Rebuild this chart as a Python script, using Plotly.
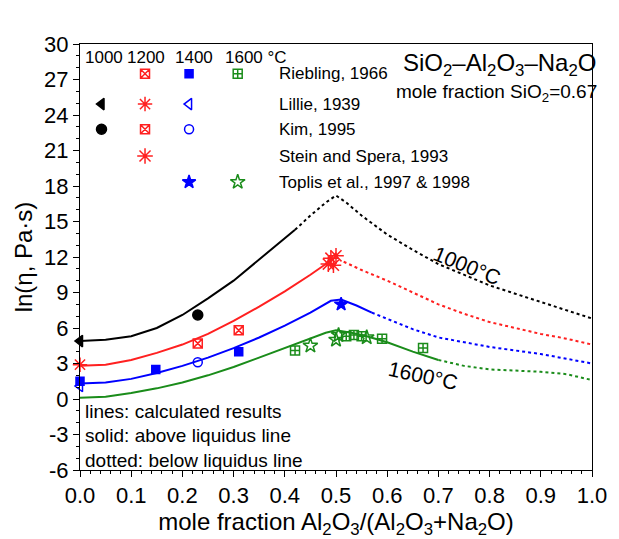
import plotly.graph_objects as go

# ---------------- data: calculated curves ----------------
black_solid_x = [0, 0.05, 0.1, 0.15, 0.2, 0.25, 0.3, 0.35, 0.4, 0.42]
black_solid_y = [4.9, 5.0, 5.3, 6.0, 7.1, 8.5, 10.0, 11.8, 13.6, 14.3]
black_dot_x = [0.42, 0.45, 0.48, 0.5, 0.52, 0.55, 0.6, 0.65, 0.7, 0.75, 0.8, 0.85, 0.9, 0.95, 1.0]
black_dot_y = [14.3, 15.5, 16.6, 17.2, 16.6, 15.5, 13.9, 12.6, 11.4, 10.5, 9.6, 8.9, 8.2, 7.5, 6.8]

red_solid_x = [0, 0.05, 0.1, 0.15, 0.2, 0.25, 0.3, 0.35, 0.4, 0.45, 0.49]
red_solid_y = [2.8, 2.9, 3.3, 3.9, 4.6, 5.5, 6.6, 7.8, 9.1, 10.5, 11.7]
red_dot_x = [0.515, 0.55, 0.6, 0.65, 0.7, 0.75, 0.8, 0.85, 0.9, 0.95, 1.0]
red_dot_y = [11.6, 10.9, 10.0, 9.0, 8.0, 7.2, 6.5, 6.0, 5.5, 5.1, 4.6]

blue_solid_x = [0, 0.05, 0.1, 0.15, 0.2, 0.25, 0.3, 0.35, 0.4, 0.45, 0.49, 0.51, 0.54, 0.57]
blue_solid_y = [1.3, 1.4, 1.7, 2.2, 2.8, 3.5, 4.3, 5.2, 6.2, 7.3, 8.3, 8.4, 7.9, 7.3]
blue_dot_x = [0.57, 0.6, 0.65, 0.7, 0.75, 0.8, 0.85, 0.9, 0.95, 1.0]
blue_dot_y = [7.3, 6.8, 5.9, 5.2, 4.8, 4.4, 4.1, 3.8, 3.4, 3.0]

green_solid_x = [0, 0.05, 0.1, 0.15, 0.2, 0.25, 0.3, 0.35, 0.4, 0.45, 0.48, 0.5, 0.53, 0.56, 0.6, 0.65, 0.7]
green_solid_y = [0.1, 0.2, 0.5, 0.9, 1.4, 2.0, 2.7, 3.5, 4.3, 5.1, 5.6, 5.8, 5.6, 5.3, 4.8, 4.0, 3.3]
green_dot_x = [0.7, 0.75, 0.8, 0.85, 0.9, 0.95, 1.0]
green_dot_y = [3.3, 2.8, 2.5, 2.4, 2.3, 2.1, 1.6]

# ---------------- data: experimental points ----------------
lillie_1000_x = [0.0]; lillie_1000_y = [4.9]
kim_1000_x = [0.23]; kim_1000_y = [7.1]

lillie_1200_x = [0.0]; lillie_1200_y = [2.9]
kim_1200_x = [0.23]; kim_1200_y = [4.7]
riebling_1200_x = [0.31]; riebling_1200_y = [5.8]
stein_1200_x = [0.485, 0.49, 0.495, 0.5]
stein_1200_y = [11.4, 11.9, 11.3, 12.1]

riebling_1400_x = [0.0, 0.148, 0.31]; riebling_1400_y = [1.5, 2.5, 4.0]
lillie_1400_x = [0.0]; lillie_1400_y = [1.1]
kim_1400_x = [0.23]; kim_1400_y = [3.1]
toplis_1400_x = [0.51]; toplis_1400_y = [8.0]

riebling_1600_x = [0.42, 0.52, 0.535, 0.55, 0.59, 0.67]
riebling_1600_y = [4.1, 5.3, 5.4, 5.3, 5.1, 4.3]
toplis_1600_x = [0.45, 0.50, 0.505, 0.56]
toplis_1600_y = [4.5, 5.0, 5.4, 5.2]

x_ticks = [0.0, 0.1, 0.2, 0.3, 0.4, 0.5, 0.6, 0.7, 0.8, 0.9, 1.0]
y_ticks = [-6, -3, 0, 3, 6, 9, 12, 15, 18, 21, 24, 27, 30]
y_tick_labels = ["-6", "-3", "0", "3", "6", "9", "12", "15", "18", "21", "24", "27", "30"]

FONT = "Liberation Sans, Arial, sans-serif"
BLACK, RED, BLUE, GREEN = "#000000", "#ff2020", "#0000ff", "#1a8c1a"

fig = go.Figure()

def line(x, y, color, dash):
    fig.add_trace(go.Scatter(x=x, y=y, mode="lines", showlegend=False,
                             line=dict(color=color, width=2, dash=dash)))

for xs, ys, xd, yd, c in [
    (black_solid_x, black_solid_y, black_dot_x, black_dot_y, BLACK),
    (red_solid_x, red_solid_y, red_dot_x, red_dot_y, RED),
    (blue_solid_x, blue_solid_y, blue_dot_x, blue_dot_y, BLUE),
    (green_solid_x, green_solid_y, green_dot_x, green_dot_y, GREEN),
]:
    line(xs, ys, c, "solid")
    line(xd, yd, c, "dot")

STY = {
    "riebling_1200": dict(symbol="square-x-open", color=RED, size=9),
    "riebling_1400": dict(symbol="square", color=BLUE, size=8),
    "riebling_1600": dict(symbol="square-cross-open", color=GREEN, size=9),
    "lillie_1000": dict(symbol="triangle-left", color=BLACK, size=10),
    "lillie_1200": dict(symbol="asterisk-open", color=RED, size=12),
    "lillie_1400": dict(symbol="triangle-left-open", color=BLUE, size=10),
    "kim_1000": dict(symbol="circle", color=BLACK, size=10),
    "kim_1200": dict(symbol="square-x-open", color=RED, size=9),
    "kim_1400": dict(symbol="circle-open", color=BLUE, size=9),
    "stein_1200": dict(symbol="asterisk-open", color=RED, size=13),
    "toplis_1400": dict(symbol="star", color=BLUE, size=10),
    "toplis_1600": dict(symbol="star-open", color=GREEN, size=11),
}

def pts(x, y, key, xa="x", ya="y"):
    s = STY[key]
    fig.add_trace(go.Scatter(
        x=x, y=y, mode="markers", showlegend=False, cliponaxis=False,
        xaxis=xa, yaxis=ya,
        marker=dict(symbol=s["symbol"], size=s["size"], color=s["color"],
                    line=dict(color=s["color"], width=1.5))))

pts(lillie_1000_x, lillie_1000_y, "lillie_1000")
pts(kim_1000_x, kim_1000_y, "kim_1000")
pts(lillie_1200_x, lillie_1200_y, "lillie_1200")
pts(kim_1200_x, kim_1200_y, "kim_1200")
pts(riebling_1200_x, riebling_1200_y, "riebling_1200")
pts(stein_1200_x, stein_1200_y, "stein_1200")
pts(riebling_1400_x, riebling_1400_y, "riebling_1400")
pts(lillie_1400_x, lillie_1400_y, "lillie_1400")
pts(kim_1400_x, kim_1400_y, "kim_1400")
pts(toplis_1400_x, toplis_1400_y, "toplis_1400")
pts(riebling_1600_x, riebling_1600_y, "riebling_1600")
pts(toplis_1600_x, toplis_1600_y, "toplis_1600")

# ---------------- custom legend table (in an overlay 0..1 frame) ----------------
col_x = {"1000": 0.042, "1200": 0.127, "1400": 0.213, "1600": 0.308}
head_x = {"1000": 0.046, "1200": 0.129, "1400": 0.222}
rows = [
    ("Riebling, 1966", 0.930, ["riebling_1200", "riebling_1400", "riebling_1600"]),
    ("Lillie, 1939", 0.859, ["lillie_1000", "lillie_1200", "lillie_1400"]),
    ("Kim, 1995", 0.800, ["kim_1000", "kim_1200", "kim_1400"]),
    ("Stein and Spera, 1993", 0.737, ["stein_1200"]),
    ("Toplis et al., 1997 & 1998", 0.676, ["toplis_1400", "toplis_1600"]),
]
for label, yy, keys in rows:
    for k in keys:
        pts([col_x[k.split("_")[1]]], [yy], k, "x2", "y2")

ann = []
for t, xx in head_x.items():
    ann.append(dict(x=xx, y=0.969, xref="paper", yref="paper", text=t, showarrow=False,
                    xanchor="center", yanchor="middle", font=dict(size=17, color="black", family=FONT)))
ann.append(dict(x=0.279, y=0.969, xref="paper", yref="paper", text="1600 °C", showarrow=False,
                xanchor="left", yanchor="middle", font=dict(size=17, color="black", family=FONT)))
for label, yy, keys in rows:
    ann.append(dict(x=0.384, y=yy, xref="paper", yref="paper", text=label, showarrow=False,
                    xanchor="left", yanchor="middle", font=dict(size=17, color="black", family=FONT)))

ann.append(dict(x=1.012, y=0.953, xref="paper", yref="paper",
                text="SiO<sub>2</sub>–Al<sub>2</sub>O<sub>3</sub>–Na<sub>2</sub>O", showarrow=False,
                xanchor="right", yanchor="middle", font=dict(size=24, color="black", family=FONT)))
ann.append(dict(x=1.014, y=0.886, xref="paper", yref="paper",
                text="mole fraction SiO<sub>2</sub>=0.67", showarrow=False,
                xanchor="right", yanchor="middle", font=dict(size=19, color="black", family=FONT)))

for t, yy in [("lines: calculated results", 0.138), ("solid: above liquidus line", 0.080),
              ("dotted: below liquidus line", 0.023)]:
    ann.append(dict(x=0.006, y=yy, xref="paper", yref="paper", text=t, showarrow=False,
                    xanchor="left", yanchor="middle", font=dict(size=19, color="black", family=FONT)))

ann.append(dict(x=0.756, y=11.3, xref="x", yref="y", text="1000°C", showarrow=False,
                textangle=22, font=dict(size=21, color="black", family=FONT)))
ann.append(dict(x=0.67, y=2.0, xref="x", yref="y", text="1600°C", showarrow=False,
                textangle=12, font=dict(size=21, color="black", family=FONT)))

axis_common = dict(showgrid=False, zeroline=False, showline=True, mirror=True,
                   linecolor="black", linewidth=1, ticks="outside", ticklen=6,
                   tickcolor="black", tickfont=dict(size=22, color="black", family=FONT))

fig.update_layout(
    width=619, height=539,
    margin=dict(l=80, r=20, t=44, b=69),
    paper_bgcolor="white", plot_bgcolor="white",
    showlegend=False,
    font=dict(family=FONT, color="black"),
    xaxis=dict(range=[0, 1], tickvals=x_ticks, tickformat=".1f",
               minor=dict(dtick=0.02, ticklen=3, ticks="outside", tickcolor="black"),
               title=dict(text="mole fraction Al<sub>2</sub>O<sub>3</sub>/(Al<sub>2</sub>O<sub>3</sub>+Na<sub>2</sub>O)",
                          font=dict(size=24, color="black", family=FONT), standoff=2),
               **axis_common),
    yaxis=dict(range=[-6, 30], tickvals=y_ticks, ticktext=y_tick_labels,
               minor=dict(dtick=1, ticklen=3, ticks="outside", tickcolor="black"),
               title=dict(text="ln(η, Pa·s)", font=dict(size=24, color="black", family=FONT), standoff=4),
               **axis_common),
    xaxis2=dict(range=[0, 1], overlaying="x", visible=False, fixedrange=True),
    yaxis2=dict(range=[0, 1], overlaying="y", visible=False, fixedrange=True),
    annotations=ann,
)

fig.write_html("out.html")
